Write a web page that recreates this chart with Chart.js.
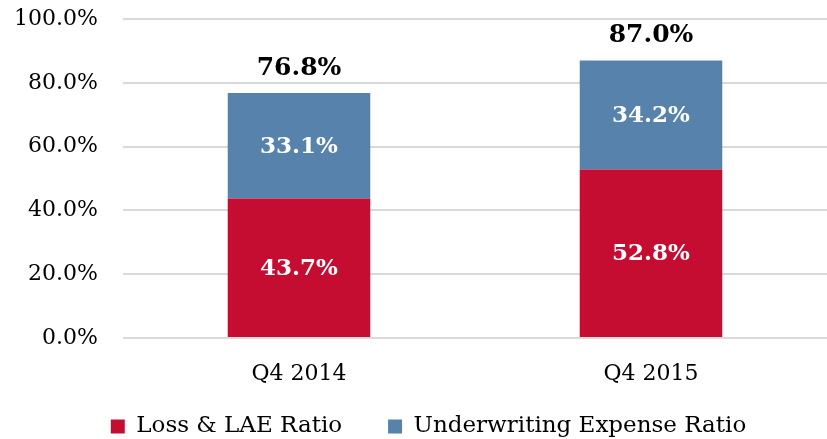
<!DOCTYPE html>
<html>
<head>
<meta charset="utf-8">
<script src="https://cdn.jsdelivr.net/npm/chart.js@4"></script>
<style>
  html, body { margin: 0; padding: 0; background: #fff; }
  #wrap { width: 827px; height: 439px; }
</style>
</head>
<body>
<div id="wrap"><canvas id="ratios"></canvas></div>
<script>
const quarters = ["Q4 2014", "Q4 2015"]
const lossLae = [43.7, 52.8]
const uwExpense = [33.1, 34.2]
const yTicks = [0, 20, 40, 60, 80, 100]

const serif = "'DejaVu Serif', serif"

// labels inside the bars + combined ratio on top
const barLabels = {
    id: "barLabels",
    afterDatasetsDraw(chart) {
        let ctx = chart.ctx
        ctx.save()
        ctx.textAlign = "center"
        ctx.textBaseline = "middle"
        chart.data.datasets.forEach((ds, i) => {
            let meta = chart.getDatasetMeta(i)
            meta.data.forEach((bar, j) => {
                ctx.fillStyle = "#fff"
                ctx.font = "bold 23px " + serif
                ctx.fillText(ds.data[j].toFixed(1) + "%", bar.x, (bar.y + bar.base) / 2 + 1)
            })
        })
        let top = chart.getDatasetMeta(chart.data.datasets.length - 1)
        top.data.forEach((bar, j) => {
            let total = lossLae[j] + uwExpense[j]
            ctx.fillStyle = "#000"
            ctx.font = "bold 25px " + serif
            ctx.fillText(total.toFixed(1) + "%", bar.x, bar.y - 25)
        })
        ctx.restore()
    }
}

// wide gap between legend items but a short legend box
const legendHeight = {
    id: "legendHeight",
    beforeLayout(chart) {
        let lg = chart.legend
        if (lg && !lg.patched) {
            let fit = lg.fit
            lg.fit = function () {
                fit.call(this)
                this.height = 70
            }
            lg.patched = true
        }
    }
}

// axis boxes are squeezed, so let tick labels draw outside them
const noClip = (scale) => { scale._computeLabelArea = () => undefined }

const config = {
    type: "bar",
    data: {
        labels: quarters,
        datasets: [
            {
                label: "Loss & LAE Ratio",
                data: lossLae,
                backgroundColor: "#c50d32",
                barPercentage: 0.405,
                categoryPercentage: 1
            },
            {
                label: "Underwriting Expense Ratio",
                data: uwExpense,
                backgroundColor: "#5682ac",
                barPercentage: 0.405,
                categoryPercentage: 1
            }
        ]
    },
    options: {
        responsive: true,
        maintainAspectRatio: false,
        animation: false,
        layout: { padding: { top: 19, right: 0, left: 30, bottom: 0 } },
        plugins: {
            legend: {
                position: "bottom",
                labels: {
                    color: "#000",
                    font: { family: serif, size: 23 },
                    boxWidth: 14,
                    boxHeight: 14,
                    padding: 46
                }
            },
            tooltip: { enabled: false }
        },
        scales: {
            x: {
                stacked: true,
                grid: { display: false },
                border: { display: false },
                afterFit: (scale) => {
                    scale.height = 31
                    noClip(scale)
                },
                ticks: {
                    color: "#000",
                    font: { family: serif, size: 22 },
                    padding: 15
                }
            },
            y: {
                stacked: true,
                min: 0,
                max: 100,
                afterBuildTicks: (scale) => {
                    scale.ticks = yTicks.map(v => ({ value: v }))
                },
                afterFit: (scale) => {
                    scale.width = 93
                    scale.paddingTop = 0
                    scale.paddingBottom = 0
                    noClip(scale)
                },
                grid: { color: "#d9d9d9", lineWidth: 2, drawTicks: false },
                border: { display: false },
                ticks: {
                    color: "#000",
                    font: { family: serif, size: 22 },
                    padding: 25,
                    callback: (v) => v.toFixed(1) + "%"
                }
            }
        }
    },
    plugins: [barLabels, legendHeight]
}

new Chart(document.getElementById("ratios"), config)
</script>
</body>
</html>
